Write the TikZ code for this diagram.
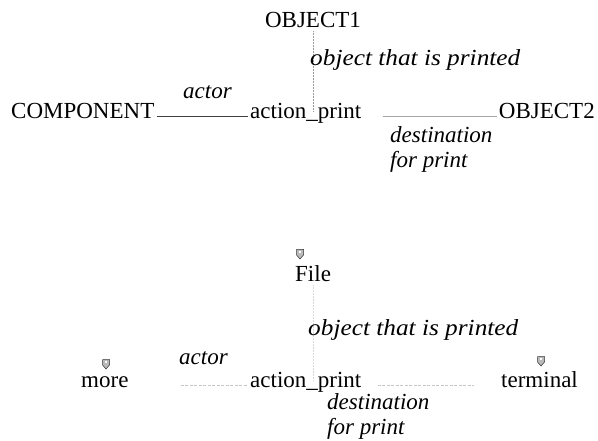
\documentclass[tikz,border=0pt]{standalone}
\usepackage{fontspec}
\setmainfont{Liberation Serif}
\tikzset{shieldmark/.pic={
    \filldraw[fill=gray!55, draw=black!80, line width=0.5pt] (-3.5,-4.5) -- (3.5,-4.5) -- (3.5,1) -- (0,5) -- (-3.5,1) -- cycle;
    \fill[white] (-1.4,-3) rectangle (1.4,-0.8);}}
\begin{document}
\begin{tikzpicture}[x=1pt, y=-1pt, font=\fontsize{23}{25}\selectfont,
    term/.style={inner sep=2pt, text height=0.55em, text depth=0.1em},
    lab/.style={inner sep=2pt, font=\fontsize{23}{25}\selectfont\itshape, align=left},
    widelab/.style={lab, font=\fontsize{23}{25}\selectfont\itshape\addfontfeatures{FakeStretch=1.1}},
    darklink/.style={draw=black!75, line width=0.6pt},
    greylink/.style={draw=gray!70, line width=0.8pt},
    faintlink/.style={draw=gray!45, line width=0.7pt, dash pattern=on 3pt off 1.5pt},
    vlink/.style={draw=gray!80, line width=0.5pt, densely dotted}]
\useasboundingbox (0,0) rectangle (598,441);

% 1. upper relation: nodes
\node[term, anchor=base] (objA) at (313,28) {OBJECT1};
\node[term, anchor=base west] (comp) at (9,119) {COMPONENT};
\node[term, anchor=base west] (actA) at (248,119) {action\_print};
\node[term, anchor=base east] (objB) at (597,119) {OBJECT2};

% 2. upper relation: links and role labels
\draw[darklink] (comp) -- (actA);
\draw[greylink, shorten <=19pt] (actA) -- (objB);
\draw[vlink] (objA) -- (objA |- actA.north);
\node[lab, anchor=base west] (actorA) at (181,99) {actor};
\node[widelab, anchor=base west] (printedA) at (308,66) {object that is printed};
\node[lab, anchor=north west] (destA) at (388,124) {destination\\for print};

% 3. lower relation: nodes (with small shield marks)
\node[term, anchor=base west] (file) at (293,282) {File};
\node[term, anchor=base west] (more) at (79,388) {more};
\node[term, anchor=base west] (actB) at (248,388) {action\_print};
\node[term, anchor=base west] (term) at (499,388) {terminal};
\pic at (300,254) {shieldmark};
\pic at (106,364) {shieldmark};
\pic at (541,361) {shieldmark};

% 4. lower relation: faded links and role labels
\draw[faintlink, shorten <=50pt] (more) -- (actB);
\draw[faintlink, shorten <=14pt, shorten >=25pt] (actB) -- (term);
\draw[vlink, draw=gray!30] (file) -- (file |- actB.north);
\node[lab, anchor=base west] (actorB) at (177,364) {actor};
\node[widelab, anchor=base west] (printedB) at (306,335) {object that is printed};
\node[lab, anchor=north west] (destB) at (325,391) {destination\\for print};
\end{tikzpicture}
\end{document}
